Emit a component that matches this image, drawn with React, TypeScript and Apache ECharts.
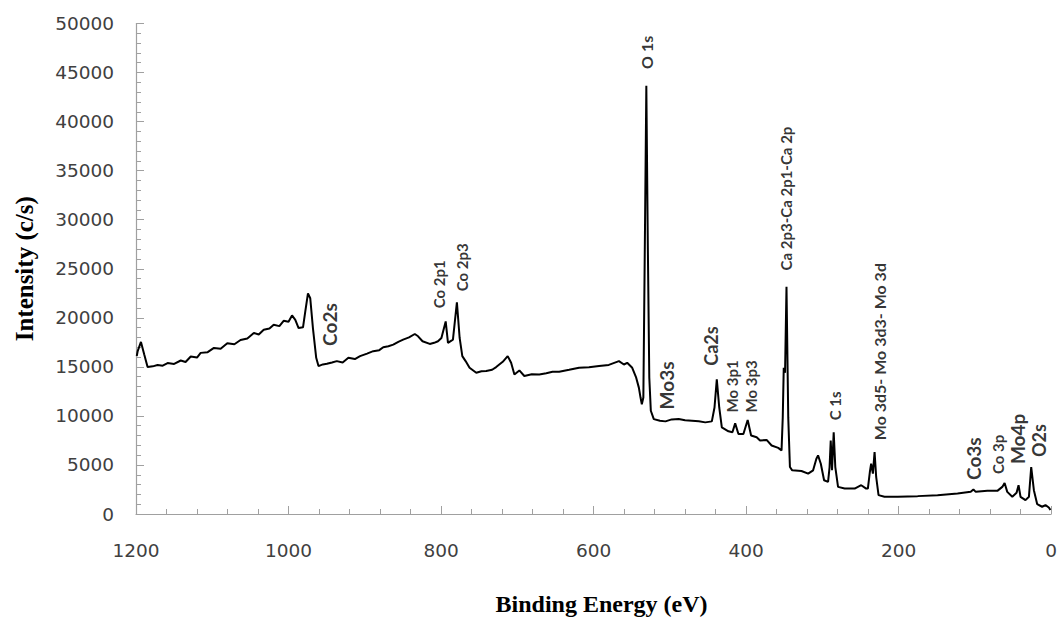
import React, { useEffect, useRef } from "react";
import * as echarts from "echarts";

// Binding energy (eV) and intensity (c/s)
const energy = [
  1199, 1197.8, 1193.5, 1189.2, 1184.8, 1178, 1171.7, 1165, 1158.6, 1150, 1141.3, 1135, 1128.2, 1120, 1115.2,
  1106, 1097.8, 1089, 1080.3, 1071, 1062.9, 1054, 1045.5, 1039, 1032.5, 1025, 1019.4, 1012, 1006.4, 1000,
  995.4, 991.1, 986.8, 981.0, 978.0, 974.5, 971.5, 968.0, 963.7, 960.7, 955, 949.7, 943, 936.7, 929, 921.5,
  913, 906.2, 897, 888.9, 881, 875.8, 869, 862.7, 856, 849.7, 842, 834.4, 830.1, 824.3, 814.8, 809, 804.0,
  799.5, 793.9, 790.9, 784.4, 779.2, 775.6, 772.1, 767.8, 762.6, 753.8, 747, 740.8, 733, 727.7, 719.1,
  712.6, 708.1, 703.8, 697.3, 690.8, 681, 671.2, 662, 653.8, 645.1, 632, 619.0, 606, 592.8, 580, 566.7,
  560.2, 555.9, 549.3, 544.1, 540.6, 538.4, 536.7, 534.7, 532.8, 530.8, 528.8, 526.9, 524.9, 521.0, 513,
  505.7, 497.5, 488.4, 480, 471.0, 462, 453.5, 444.9, 441.4, 438.4, 435.2, 431.8, 423.1, 417.9, 414.3,
  410.0, 403.5, 397.9, 393.4, 386.1, 381.7, 373.1, 366.5, 357.8, 353.5, 351.9, 350.6, 348.9, 347.0, 344.7,
  342.5, 339.5, 327.4, 318.6, 312.1, 307.8, 305.6, 302.0, 297.7, 292.5, 290.5, 289.0, 287.3, 285.1, 283.0,
  279.4, 270.7, 257.6, 249.0, 242.5, 240.3, 237.7, 236.0, 233.7, 231.5, 229.4, 226.3, 218.5, 201.1, 175.0,
  148.9, 122.7, 105.4, 101.9, 98.8, 83.6, 70.5, 64.0, 61.0, 57.5, 50.9, 45.3, 42.7, 40.1, 33.6, 29.1, 26.1,
  22.6, 18.3, 11.8, 7.4, 3.0, 0.9,
];
const intensity = [
  16100, 16597, 17538, 16253, 14978, 15050, 15180, 15120, 15382, 15300, 15646, 15500, 16050, 15950, 16425,
  16500, 16931, 16850, 17406, 17300, 17740, 17900, 18449, 18300, 18783, 18900, 19289, 19150, 19694, 19600,
  20240, 19795, 18955, 19026, 20645, 22497, 21991, 18955, 15919, 15079, 15250, 15312, 15450, 15585, 15450,
  15919, 15800, 16091, 16350, 16597, 16700, 17002, 17100, 17265, 17550, 17771, 18000, 18348, 18115, 17609,
  17336, 17450, 17609, 17943, 19633, 17437, 17771, 21586, 17943, 16091, 15585, 14907, 14401, 14550, 14573,
  14700, 14978, 15514, 16091, 15413, 14229, 14634, 14067, 14250, 14229, 14350, 14502, 14502, 14700, 14907,
  14950, 15079, 15200, 15585, 15241, 15413, 14907, 13895, 12883, 11871, 11193, 11871, 27051, 43648, 27051,
  13895, 10525, 9675, 9500, 9442, 9644, 9675, 9550, 9513, 9450, 9341, 9442, 10859, 13723, 10859, 8835,
  8430, 8329, 9240, 8157, 8157, 9574, 7995, 7823, 7489, 7550, 6983, 6740, 6477, 9847, 14907, 14401, 23175,
  9847, 4787, 4453, 4382, 4109, 4453, 5627, 5971, 5121, 3441, 3269, 4787, 7489, 4453, 8329, 4787, 2763,
  2591, 2591, 2935, 2591, 2591, 4281, 5121, 4109, 6305, 3775, 1923, 1751, 1751, 1822, 1923, 2085, 2257,
  2490, 2257, 2358, 2358, 2763, 3168, 2257, 1751, 2156, 2935, 1751, 1417, 1751, 4787, 2429, 1012, 739,
  911, 668, 405,
];

// Peak annotations: label text, energy and intensity at the foot of the (vertical) label
const peakNames = [
  "Co2s", "Co 2p1", "Co 2p3", "O 1s", "Mo3s", "Ca2s", "Mo 3p1", "Mo 3p3", "Ca 2p3-Ca 2p1-Ca 2p",
  "C 1s", "Mo 3d5- Mo 3d3- Mo 3d", "Co3s", "Co 3p", "Mo4p", "O2s",
];
const peakEnergy = [946.7, 803, 773, 530, 504, 446.6, 418, 393, 347.3, 283, 224.6, 102, 69, 44, 15.7];
const peakLabelY = [17137, 20982, 22702, 45374, 10658, 15111, 10354, 10354, 24828, 9545, 7520, 3472, 4079, 5091, 5800];
const peakSize = [19, 15, 15, 16, 19, 18, 15, 15, 15, 15, 16, 19, 15, 19, 18];

const yTicks = { min: 0, max: 50000, interval: 5000 };
const xTicks = { min: 0, max: 1200, interval: 200 };

export default function App() {
  const ref = useRef<HTMLDivElement>(null);
  useEffect(() => {
    if (!ref.current) return;
    const chart = echarts.init(ref.current, undefined, { renderer: "svg" });
    const lineData = energy.map((e, i) => [e, intensity[i]]);
    const labelData = peakNames.map((n, i) => ({
      value: [peakEnergy[i], peakLabelY[i]],
      name: n,
      label: { fontSize: peakSize[i] },
    }));
    const axisGray = "#a0a0a0";
    chart.setOption({
      animation: false,
      backgroundColor: "#ffffff",
      grid: { left: 136, right: 6, top: 23.5, bottom: 103.7, containLabel: false },
      xAxis: {
        type: "value",
        inverse: true,
        min: xTicks.min,
        max: xTicks.max,
        interval: xTicks.interval,
        name: "Binding Energy (eV)",
        nameLocation: "middle",
        nameGap: 78,
        nameTextStyle: {
          fontFamily: "Liberation Serif",
          fontWeight: "bold",
          fontSize: 24,
          color: "#000",
          padding: [0, 0, 0, 16],
        },
        axisLine: { show: true, onZero: false, lineStyle: { color: axisGray, width: 1.2 } },
        axisTick: { show: true, inside: true, length: 8, lineStyle: { color: axisGray } },
        minorTick: { show: true, splitNumber: 5, length: 5, lineStyle: { color: axisGray } },
        splitLine: { show: false },
        axisLabel: {
          fontFamily: "DejaVu Sans",
          fontSize: 18.5,
          color: "#404040",
          margin: 27,
          formatter: (v: number) => String(v),
        },
      },
      yAxis: {
        type: "value",
        min: yTicks.min,
        max: yTicks.max,
        interval: yTicks.interval,
        name: "Intensity (c/s)",
        nameLocation: "middle",
        nameGap: 99,
        nameTextStyle: {
          fontFamily: "Liberation Serif",
          fontWeight: "bold",
          fontSize: 25,
          color: "#000",
        },
        axisLine: { show: true, onZero: false, lineStyle: { color: axisGray, width: 1.2 } },
        axisTick: { show: true, inside: true, length: 8, lineStyle: { color: axisGray } },
        minorTick: { show: true, splitNumber: 5, length: 5, lineStyle: { color: axisGray } },
        splitLine: { show: false },
        axisLabel: {
          fontFamily: "DejaVu Sans",
          fontSize: 18.5,
          color: "#404040",
          margin: 22,
          formatter: (v: number) => String(v),
        },
      },
      series: [
        {
          type: "line",
          data: lineData,
          showSymbol: false,
          symbol: "none",
          lineStyle: { color: "#000", width: 2 },
          z: 2,
        },
        {
          type: "scatter",
          data: labelData,
          symbolSize: 0,
          silent: true,
          z: 3,
          label: {
            show: true,
            formatter: "{b}",
            position: "top",
            distance: 0,
            rotate: 90,
            align: "left",
            verticalAlign: "middle",
            fontFamily: "Lato",
            fontWeight: "bold",
            color: "#000",
          },
        },
      ],
    });
    return () => chart.dispose();
  }, []);
  return (
    <div
      ref={ref}
      style={{ position: "absolute", left: 0, top: 0, width: 1060, height: 621, background: "#fff" }}
    />
  );
}
